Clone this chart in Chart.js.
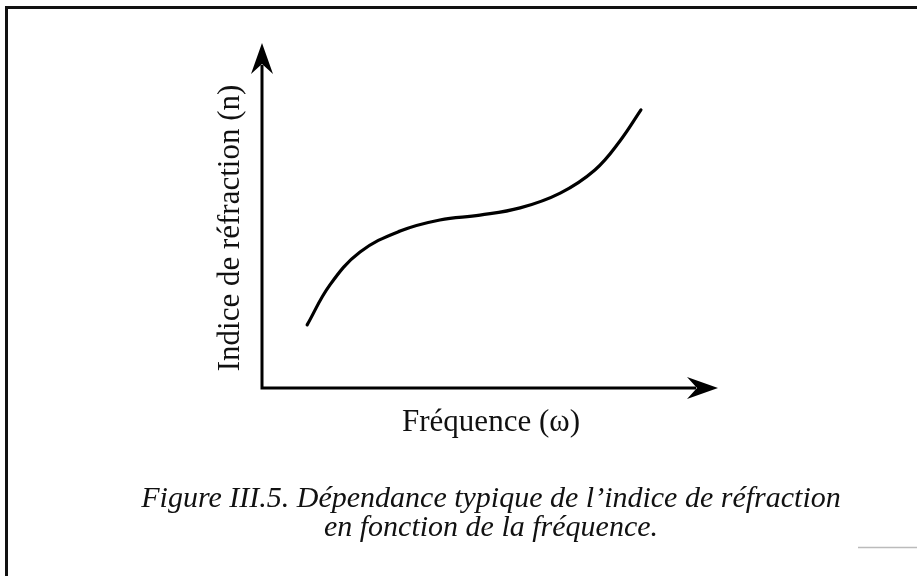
<!DOCTYPE html>
<html lang="fr">
<head>
<meta charset="UTF-8">
<title>Figure III.5</title>
<script src="https://cdn.jsdelivr.net/npm/chart.js"></script>
<style>
  html, body { margin: 0; padding: 0; background: #fff; }
  #wrap { width: 917px; height: 576px; }
</style>
</head>
<body>
<div id="wrap"><canvas id="fig"></canvas></div>
<script>
  // courbe (unités arbitraires, 0-100)
  const frequence = [9.9, 14.9, 21.5, 30.3, 39.0, 47.8, 56.6, 65.4, 73.0, 78.5, 83.1];
  const indice    = [18.3, 29.9, 39.4, 45.5, 48.7, 50.1, 52.2, 56.5, 63.2, 71.6, 80.6];

  const titreX = 'Fréquence (ω)';
  const titreY = 'Indice de réfraction (n)';
  const legende = [
    'Figure III.5. Dépendance typique de l\u2019indice de réfraction',
    'en fonction de la fréquence.'
  ];

  const serif = '"Liberation Serif", "Times New Roman", serif';

  function arrow(ctx, tipX, tipY, dir) {
    // dir: 'up' or 'right'
    const len = 31, half = 11, notch = 21;
    ctx.beginPath();
    if (dir === 'up') {
      ctx.moveTo(tipX, tipY);
      ctx.lineTo(tipX + half, tipY + len);
      ctx.lineTo(tipX, tipY + notch);
      ctx.lineTo(tipX - half, tipY + len);
    } else {
      ctx.moveTo(tipX, tipY);
      ctx.lineTo(tipX - len, tipY - half);
      ctx.lineTo(tipX - notch, tipY);
      ctx.lineTo(tipX - len, tipY + half);
    }
    ctx.closePath();
    ctx.fill();
  }

  const decor = {
    id: 'decor',
    beforeDraw(chart) {
      const ctx = chart.ctx;
      ctx.save();
      ctx.fillStyle = '#fff';
      ctx.fillRect(0, 0, chart.width, chart.height);
      // cadre
      ctx.strokeStyle = '#111';
      ctx.lineWidth = 3;
      ctx.beginPath();
      ctx.moveTo(6.5, 576);
      ctx.lineTo(6.5, 7.5);
      ctx.lineTo(917, 7.5);
      ctx.stroke();
      ctx.strokeStyle = '#bbb';
      ctx.lineWidth = 1.5;
      ctx.beginPath();
      ctx.moveTo(858, 547.5);
      ctx.lineTo(917, 547.5);
      ctx.stroke();
      ctx.restore();
    },
    afterDraw(chart) {
      const ctx = chart.ctx;
      const a = chart.chartArea;
      ctx.save();
      ctx.strokeStyle = '#000';
      ctx.fillStyle = '#000';
      ctx.lineWidth = 3;
      ctx.beginPath();
      ctx.moveTo(a.left, a.top + 22);
      ctx.lineTo(a.left, a.bottom);
      ctx.lineTo(a.right - 22, a.bottom);
      ctx.stroke();
      arrow(ctx, a.left, a.top, 'up');
      arrow(ctx, a.right, a.bottom, 'right');

      ctx.fillStyle = '#111';
      ctx.textAlign = 'center';
      ctx.textBaseline = 'middle';
      ctx.font = '31px ' + serif;
      ctx.fillText(titreX, 491, 423);

      ctx.save();
      ctx.translate(231, 228);
      ctx.rotate(-Math.PI / 2);
      ctx.fillText(titreY, 0, 0);
      ctx.restore();

      ctx.font = 'italic 30px ' + serif;
      ctx.fillText(legende[0], 491, 499);
      ctx.fillText(legende[1], 491, 528);
      ctx.restore();
    }
  };

  new Chart(document.getElementById('fig'), {
    type: 'line',
    data: {
      datasets: [{
        data: frequence.map((f, i) => ({ x: f, y: indice[i] })),
        borderColor: '#000',
        borderWidth: 3.2,
        borderCapStyle: 'round',
        pointRadius: 0,
        tension: 0.4,
        fill: false
      }]
    },
    options: {
      responsive: true,
      maintainAspectRatio: false,
      animation: false,
      layout: { padding: { left: 262, right: 199, top: 43, bottom: 188 } },
      plugins: { legend: { display: false }, tooltip: { enabled: false } },
      scales: {
        x: { type: 'linear', min: 0, max: 100, display: false },
        y: { min: 0, max: 100, display: false }
      }
    },
    plugins: [decor]
  });
</script>
</body>
</html>
